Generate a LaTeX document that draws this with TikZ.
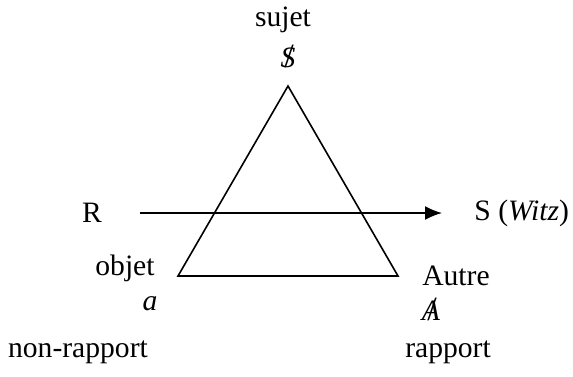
\documentclass[tikz,border=0pt]{standalone}
\usepackage{fontspec}
\setmainfont{Liberation Serif}
\usetikzlibrary{arrows.meta}
\newcommand{\barre}[1]{\ooalign{\textit{#1}\cr\hidewidth\kern1pt\textup{\fontsize{17}{17}\selectfont/}\hidewidth\cr}}

\begin{document}
\begin{tikzpicture}[x=0.5pt,y=-0.5pt,
  lbl/.style={font=\fontsize{14.8}{17}\selectfont,inner sep=1pt},
  tri/.style={draw,thick,line join=miter},
  arr/.style={-{Latex[length=8.5pt,width=7pt]},thick}
]
\useasboundingbox (0,0) rectangle (573,376);
% triangle
\coordinate (top) at (288,86);
\coordinate (bl) at (178,276);
\coordinate (br) at (398,276);
\draw[tri] (top)--(bl)--(br)--cycle;
% labels
\node[lbl] (sujet) at (283,20) {sujet};
\node[lbl] (sbar) at (288,58) {\barre{S}};
\node[lbl] (R) at (92,213) {R};
\node[lbl,anchor=west] (witz) at (472,213) {S (\textit{Witz})};
\node[lbl] (objet) at (125,268) {objet};
\node[lbl] (a) at (150,304) {\textit{a}};
\node[lbl] (autre) at (456,276) {Autre};
\node[lbl] (abar) at (431,311) {\barre{A}};
\node[lbl] (nonrap) at (78,352) {non-rapport};
\node[lbl] (rap) at (448,352) {rapport};
% arrow R -> S
\coordinate (from) at (140,213);
\coordinate (to) at (442,213);
\draw[arr] (from)--(to);
\end{tikzpicture}
\end{document}
